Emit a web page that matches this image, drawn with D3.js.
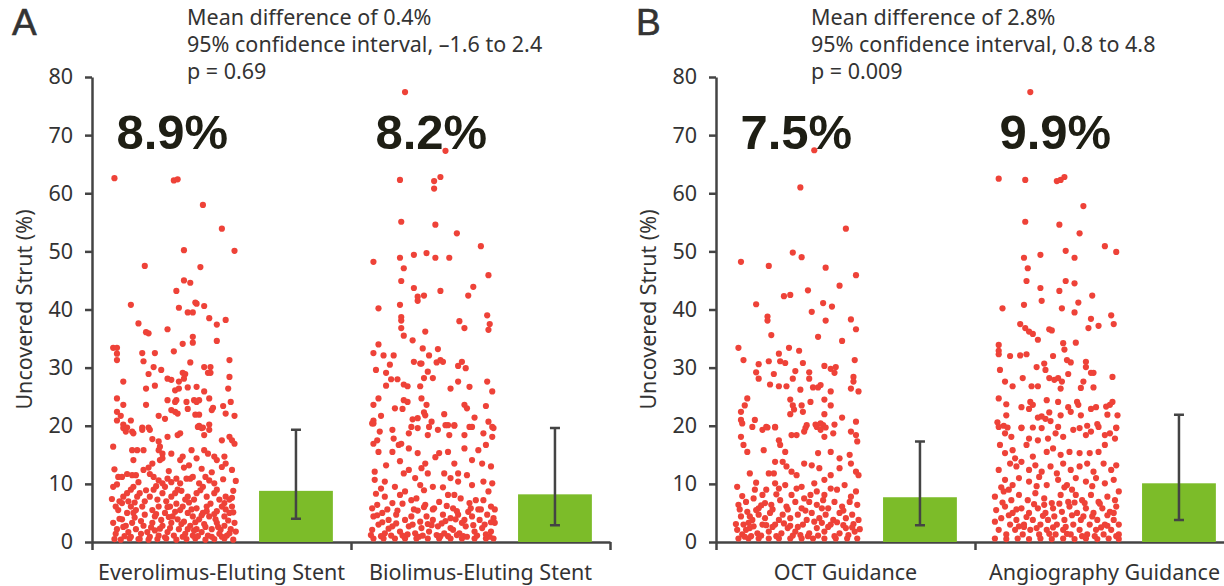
<!DOCTYPE html>
<html>
<head>
<meta charset="utf-8">
<script src="https://cdn.jsdelivr.net/npm/d3@7"></script>
<style>
  body { margin: 0; background: #fff; }
  svg { display: block; }
  text { font-family: "Noto Sans", "Open Sans", sans-serif; fill: #333; }
  .big { font-family: "Liberation Sans", Arial, sans-serif; font-weight: bold; fill: #1e1e14; }
  .letter { font-family: "Liberation Sans", Arial, sans-serif; fill: #333; }
</style>
</head>
<body>
<svg width="1224" height="586"></svg>
<script>
var yTicks = [0, 10, 20, 30, 40, 50, 60, 70, 80];

var categoriesA = ["Everolimus-Eluting Stent", "Biolimus-Eluting Stent"];
var categoriesB = ["OCT Guidance", "Angiography Guidance"];
var percentLabelsA = ["8.9%", "8.2%"];
var percentLabelsB = ["7.5%", "9.9%"];
var barMeansA = [8.8, 8.2];
var barMeansB = [7.7, 10.1];
var errLowA = [4.0, 2.9];
var errHighA = [19.3, 19.6];
var errLowB = [2.9, 3.8];
var errHighB = [17.3, 21.9];
var notesA = ["Mean difference of 0.4%", "95% confidence interval, \u20131.6 to 2.4", "p = 0.69"];
var notesB = ["Mean difference of 2.8%", "95% confidence interval, 0.8 to 4.8", "p = 0.009"];

// [jitter 0-100, uncovered strut %]
var pointsEES = [[3,62.6],[50,62.2],[53,62.4],[73,58.0],[88,53.9],[58,50.2],[98,50.1],[27,47.5],[71,47.3],[58,45.0],[63,44.6],[52,43.2],[16,40.8],[67,41.2],[68,41.0],[74,40.6],[54,40.3],[61,39.5],[65,39.5],[78,38.5],[91,38.2],[84,37.4],[22,37.6],[28,36.1],[30,35.9],[45,36.6],[65,35.3],[65,34.3],[57,34.1],[84,34.6],[2,33.4],[5,33.4],[5,32.4],[5,31.3],[25,32.5],[26,31.1],[35,32.5],[50,32.8],[63,30.9],[94,31.3],[34,30.1],[40,29.6],[74,30.1],[79,30.1],[77,29.1],[79,29.1],[30,28.9],[57,29.1],[59,28.9],[58,28.1],[45,28.1],[48,27.9],[54,27.6],[10,27.6],[94,28.4],[51,26.1],[54,26.4],[28,26.4],[35,26.9],[61,26.6],[68,26.7],[74,25.9],[93,26.4],[5,24.7],[10,23.6],[28,23.6],[45,24.4],[51,24.1],[52,24.4],[60,24.1],[66,24.4],[68,24.1],[70,24.4],[78,24.7],[81,23.1],[80,22.7],[89,23.4],[95,24.1],[48,22.7],[51,22.4],[53,22.1],[61,22.9],[67,21.9],[70,21.9],[91,22.1],[5,22.4],[8,21.7],[5,20.9],[16,20.9],[38,21.7],[43,21.2],[98,21.7],[10,20.2],[13,19.7],[25,19.7],[30,19.7],[70,20.0],[73,19.7],[78,20.2],
  [10,19.6],[12,19.0],[17,19.0],[18,18.7],[25,19.3],[31,19.3],[33,17.7],[38,17.3],[39,16.4],[45,18.1],[53,18.4],[55,18.7],[69,19.8],[72,19.6],[74,18.4],[78,19.3],[88,17.5],[94,18.1],[96,17.5],[98,16.9],[2,16.4],[17,15.8],[21,15.8],[18,14.1],[26,15.8],[33,13.5],[38,15.8],[41,15.2],[39,14.1],[41,14.4],[48,15.2],[55,14.1],[57,14.7],[64,15.8],[68,14.4],[74,15.8],[77,15.2],[82,14.7],[84,14.1],[90,14.7],[91,13.5],[88,12.9],[96,12.4],[6,11.2],[9,11.2],[13,11.7],[17,11.5],[20,11.5],[26,12.4],[31,11.7],[34,11.2],[38,10.6],[41,10.1],[45,10.9],[48,10.3],[52,10.9],[55,10.1],[60,10.9],[63,10.9],[65,11.2],[70,10.1],[75,11.2],[78,10.6],[82,10.1],[2,9.5],[10,7.8],[13,8.4],[16,9.0],[18,9.5],[21,7.8],[23,8.4],[31,7.8],[34,9.0],[37,7.3],[41,8.4],[43,9.5],[48,7.8],[51,8.4],[53,9.0],[59,7.3],[61,7.8],[66,7.3],[68,8.4],[73,9.5],[76,7.8],[82,8.4],[84,9.0],[86,7.3],[90,6.7],[91,7.8],[94,7.3],[96,7.6],[4,6.1],[6,5.5],[9,6.7],[13,5.0],[16,6.1],[20,5.5],[25,6.1],[27,4.7],[33,5.5],[35,4.4],[38,6.1],[43,5.0],[47,6.1],[49,4.4],[55,5.5],[57,6.1],[61,5.0],[65,4.4],[68,5.8],[73,5.0],[76,6.1],[78,4.4],[84,5.3],[88,6.1],[90,4.4],[94,5.0],[96,6.1],[2,3.3],[5,2.2],[9,3.9],[12,2.8],[14,1.7],[17,3.3],[20,2.2],[23,0.5],[26,2.8],[29,1.7],[33,3.3],[35,2.0],[38,1.1],[41,2.8],[45,1.7],[48,3.3],[50,1.1],[54,2.2],[56,3.1],[59,1.4],[63,2.8],[65,1.1],[68,2.2],[72,1.7],[74,3.1],[77,1.1],[80,2.2],[84,3.3],[86,1.4],[90,2.8],[92,1.1],[95,2.2],[98,3.3],[3,0.5],[8,0.4],[15,0.6],[22,0.5],[30,0.4],[37,0.5],[44,0.6],[52,0.4],[60,0.5],[67,0.6],[75,0.4],[82,0.5],[90,0.6],[97,0.4],
  [7,4.0],[11,1.0],[19,4.2],[24,3.6],[28,8.9],[32,2.5],[36,9.6],[40,3.8],[44,7.0],[47,2.4],[52,6.6],[56,8.8],[58,3.5],[62,6.8],[66,2.0],[70,3.9],[71,8.9],[75,2.6],[79,6.6],[83,3.9],[87,2.1],[89,10.8],[93,3.7],[97,8.8],[1,7.4],[5,9.9],[14,7.0],[22,10.3],[30,12.8],[46,12.2],[58,12.8],[62,13.2],[72,12.6],[80,12.0],[99,10.5],[3,12.5],[99,1.8],
  [4,1.4],[10,2.6],[16,0.9],[18,5.0],[24,1.4],[27,7.0],[31,0.9],[36,4.8],[39,2.3],[43,0.8],[46,4.3],[51,5.2],[53,3.9],[57,0.9],[61,2.2],[64,5.6],[69,1.0],[72,4.6],[76,5.3],[80,0.9],[82,4.8],[85,2.6],[88,0.9],[91,5.6],[94,1.5],[97,5.1],[7,7.0],[19,6.8],[45,6.0],[67,3.4]];

var pointsBES = [[28,77.4],[60,67.3],[24,62.3],[51,62.1],[56,62.8],[51,60.8],[25,55.1],[52,54.6],[69,53.1],[88,50.9],[3,48.2],[24,48.9],[35,49.4],[45,49.7],[52,48.9],[63,48.9],[27,47.1],[94,45.9],[25,44.9],[35,43.7],[38,42.2],[38,41.5],[43,42.4],[56,43.2],[82,43.9],[78,42.4],[7,40.2],[24,40.8],[25,38.7],[25,38.1],[25,36.8],[27,35.5],[34,34.7],[44,36.2],[71,38.0],[75,36.8],[93,39.0],[95,37.5],[94,36.5],[7,34.0],[3,32.5],[11,32.1],[19,32.1],[16,30.5],[5,29.6],[13,29.1],[17,28.0],[22,28.0],[13,26.9],[27,27.1],[30,26.8],[35,31.0],[40,30.7],[41,30.7],[42,33.3],[47,32.1],[54,33.2],[53,30.9],[56,31.3],[58,31.0],[46,29.3],[43,28.2],[50,28.2],[40,26.8],[64,26.4],[70,30.3],[73,31.0],[76,29.9],[70,27.6],[79,26.7],[93,27.6],[97,25.9],[3,23.6],[7,24.7],[9,21.7],[3,20.9],[3,20.4],[20,23.0],[27,24.4],[30,24.1],[26,22.9],[41,24.7],[45,23.6],[43,22.3],[44,21.8],[34,21.1],[38,21.3],[49,20.7],[59,22.0],[62,20.1],[67,20.0],[75,23.6],[77,23.0],[83,21.4],[79,19.8],[92,23.4],[94,20.7],[98,19.6],
  [2,20.4],[8,19.0],[6,17.5],[3,16.9],[18,19.3],[19,17.8],[23,16.7],[31,18.7],[33,19.8],[38,19.6],[46,18.4],[47,19.8],[54,19.3],[60,20.1],[63,18.4],[67,20.1],[75,18.4],[81,19.8],[90,18.7],[97,18.1],[92,16.7],[97,19.8],[7,15.5],[18,15.5],[25,16.9],[31,16.1],[38,15.3],[44,13.5],[55,15.3],[62,15.5],[67,13.5],[75,16.1],[81,14.1],[89,13.5],[96,13.0],[70,11.8],[4,12.1],[4,10.7],[12,10.4],[20,9.5],[27,11.8],[31,12.4],[36,11.0],[41,12.7],[46,11.8],[50,9.5],[59,11.8],[64,11.0],[70,10.4],[77,11.5],[81,9.8],[90,10.4],[97,10.1],[94,8.7],[2,5.8],[6,6.4],[12,7.8],[18,6.7],[24,8.1],[28,8.7],[33,7.2],[37,7.5],[44,6.4],[51,5.8],[55,6.9],[62,8.1],[67,8.1],[72,7.5],[79,6.7],[84,7.2],[90,7.2],[96,6.1],[3,4.4],[10,5.0],[15,3.8],[21,4.7],[28,3.8],[33,4.4],[40,3.5],[45,4.4],[50,3.8],[58,4.7],[64,4.1],[70,4.7],[75,3.8],[81,4.4],[87,3.8],[93,4.7],[98,4.1],[2,2.1],[7,3.0],[12,1.5],[18,2.7],[24,1.8],[31,2.7],[36,1.5],[41,2.4],[47,1.8],[54,2.7],[59,1.5],[64,2.4],[71,1.5],[76,2.7],[83,1.8],[89,2.4],[96,1.8],[3,0.6],[11,0.6],[20,0.6],[28,0.6],[37,0.6],[46,0.6],[55,0.6],[64,0.6],[73,0.6],[83,0.6],[92,0.6],[98,0.6],
  [5,8.3],[15,2.3],[22,5.4],[26,1.1],[35,5.6],[39,0.9],[43,8.9],[49,2.9],[53,1.2],[57,3.2],[61,6.2],[66,2.1],[69,5.3],[74,1.0],[78,5.2],[82,2.9],[86,5.6],[91,3.0],[95,0.9],[99,3.3],[13,13.2],[52,14.6],[86,15.8],[24,13.9],[9,9.2],[58,9.4],[40,9.8],
  [1,1.2],[6,4.6],[9,1.0],[14,5.6],[17,1.1],[21,3.2],[26,6.6],[30,1.3],[34,3.0],[38,5.4],[42,1.1],[46,3.1],[50,5.6],[56,1.0],[60,3.6],[62,1.0],[66,5.8],[69,1.2],[73,3.3],[77,0.9],[80,5.8],[85,1.1],[88,5.6],[92,1.3],[96,3.4],[99,5.6],[10,3.4],[43,6.0],[68,3.9]];

var pointsOCT = [[63,67.4],[52,61.0],[88,53.9],[5,48.2],[27,47.5],[46,49.8],[53,49.0],[72,47.2],[96,45.9],[83,44.1],[58,43.3],[39,42.3],[44,42.5],[17,40.9],[70,41.1],[77,40.5],[61,39.6],[26,38.8],[26,38.1],[72,38.1],[92,38.3],[96,36.6],[29,35.6],[66,35.3],[85,34.6],[3,33.4],[7,31.3],[43,33.4],[51,32.9],[35,32.4],[27,31.1],[36,31.1],[40,30.8],[54,30.8],[19,30.6],[17,29.2],[19,28.1],[31,28.9],[48,29.4],[46,28.1],[59,29.2],[59,28.1],[71,30.3],[76,29.8],[80,30.1],[79,29.1],[95,31.3],[94,28.4],[94,27.6],[28,27.1],[35,26.8],[41,26.8],[52,26.2],[62,26.6],[66,26.6],[68,27.0],[76,25.9],[92,26.4],[98,25.9],[10,24.7],[8,23.5],[5,22.4],[5,21.0],[6,20.4],[16,21.0],[44,24.5],[46,23.5],[47,22.8],[53,23.5],[54,22.4],[60,24.1],[44,22.0],[71,24.5],[76,23.5],[71,22.0],[85,21.4],[96,20.7],[26,19.7],[32,19.7],[56,19.6],[64,20.2],[70,20.1],[72,19.7],[79,20.2],
  [5,18.1],[7,16.7],[10,15.5],[14,19.8],[22,19.3],[23,15.8],[25,19.8],[32,19.8],[35,17.5],[36,16.7],[40,15.5],[45,18.4],[49,18.4],[55,19.0],[57,20.1],[65,19.8],[68,19.3],[68,20.4],[71,18.1],[78,18.7],[76,15.5],[83,14.4],[92,19.0],[96,18.4],[97,17.3],[32,13.8],[38,13.8],[41,13.0],[27,11.8],[31,11.8],[45,12.1],[49,11.5],[55,13.5],[61,13.2],[66,15.3],[67,12.7],[71,10.7],[76,11.5],[83,12.7],[91,15.0],[92,13.5],[96,12.1],[98,11.5],[2,9.5],[12,11.8],[16,9.0],[22,8.1],[25,9.0],[32,10.1],[35,9.2],[40,9.8],[45,8.1],[49,9.2],[53,9.5],[55,7.5],[63,10.1],[65,8.7],[71,8.1],[76,9.2],[81,9.0],[87,9.8],[92,7.8],[96,8.7],[3,6.4],[9,6.9],[15,7.5],[19,5.8],[24,6.7],[29,6.4],[36,7.2],[41,6.1],[48,6.9],[53,5.8],[59,6.9],[65,6.4],[70,7.2],[74,5.8],[79,6.9],[85,6.1],[91,6.9],[97,6.4],[5,4.4],[10,5.2],[14,3.8],[19,4.7],[24,4.1],[28,5.0],[35,3.8],[38,4.7],[44,4.1],[50,4.7],[57,3.8],[61,5.0],[67,4.1],[72,4.7],[78,3.8],[83,5.0],[88,4.1],[93,4.7],[98,3.8],[2,2.1],[7,3.0],[12,2.4],[18,1.5],[22,3.0],[27,1.8],[32,3.0],[37,1.5],[42,2.4],[48,1.8],[54,3.0],[59,1.5],[65,2.4],[71,1.8],[76,3.0],[83,1.5],[88,2.4],[95,1.8],[3,0.6],[11,0.6],[19,0.6],[27,0.6],[35,0.6],[44,0.6],[53,0.6],[62,0.6],[71,0.6],[80,0.6],[89,0.6],[97,0.6],[6,1.3],[9,2.1],[11,3.3],[15,2.7],[12,4.4],
  [17,10.2],[44,2.8],[60,8.1],[86,2.9],[30,2.6],[69,3.3],[94,3.1],[52,1.2],
  [1,3.1],[4,5.6],[8,0.9],[13,1.0],[17,5.5],[21,1.1],[25,2.9],[30,5.6],[33,1.0],[39,3.2],[42,5.6],[46,1.1],[50,2.6],[56,5.4],[58,1.0],[63,3.5],[66,1.1],[69,5.8],[74,2.6],[79,1.0],[81,3.4],[86,5.4],[90,1.2],[93,2.5],[99,2.2],[6,7.9],[21,6.3],[33,8.2]];

var pointsAngio = [[29,77.4],[4,62.5],[25,62.3],[50,62.1],[53,62.3],[56,62.8],[71,57.8],[25,55.1],[52,54.6],[68,53.1],[88,50.9],[97,49.9],[24,48.9],[37,49.4],[57,50.1],[64,48.9],[27,47.1],[26,44.9],[37,43.7],[52,43.2],[57,44.9],[64,44.5],[78,42.4],[38,41.5],[67,41.2],[7,40.2],[24,40.8],[54,40.2],[64,39.5],[77,38.4],[93,39.0],[95,37.5],[83,37.2],[75,36.8],[21,37.5],[25,36.8],[28,36.2],[31,35.8],[35,34.8],[44,36.6],[46,36.4],[55,34.2],[56,33.1],[65,34.3],[4,33.9],[4,32.9],[4,32.3],[13,32.0],[21,32.1],[26,32.3],[47,32.0],[40,30.7],[34,30.1],[58,31.3],[61,30.9],[73,31.0],[73,30.1],[77,29.1],[79,29.1],[94,28.4],[5,29.6],[41,29.6],[59,28.9],[9,27.6],[15,26.8],[23,28.2],[30,26.8],[35,26.8],[44,28.2],[48,27.9],[51,28.2],[54,27.6],[53,26.4],[69,26.5],[71,27.6],[79,26.6],[4,24.7],[10,23.7],[10,21.8],[29,24.1],[31,23.6],[22,23.2],[28,22.9],[42,24.4],[51,24.1],[66,24.1],[67,23.6],[59,23.2],[61,22.4],[44,22.3],[53,21.8],[69,21.8],[77,22.9],[81,23.2],[89,23.3],[92,23.6],[94,24.1],[90,21.9],[98,21.8],[35,21.4],[38,21.6],[41,21.2],[45,20.8],[3,20.6],[8,20.0],[11,19.7],[22,19.7],[31,19.7],[74,20.0],[82,20.3],[97,19.7],
  [4,19.8],[9,18.7],[5,16.7],[14,18.1],[15,15.8],[22,19.6],[26,16.7],[28,17.8],[35,17.5],[38,19.6],[43,17.8],[49,18.7],[51,19.8],[55,18.1],[63,19.3],[68,19.6],[73,18.4],[77,19.0],[83,19.8],[88,18.4],[92,18.7],[96,17.8],[97,19.6],[88,16.7],[83,15.5],[76,15.3],[68,15.3],[60,15.5],[53,15.0],[47,16.1],[42,15.5],[31,14.7],[17,14.4],[9,15.3],[4,12.4],[13,13.5],[18,13.0],[22,13.8],[28,12.4],[33,13.2],[38,12.1],[45,13.0],[50,11.8],[55,13.5],[61,12.4],[68,13.0],[74,13.5],[79,12.1],[87,13.5],[93,12.4],[97,13.2],[9,10.7],[15,9.8],[20,11.0],[28,10.4],[36,11.2],[42,9.8],[51,10.7],[58,9.8],[65,11.0],[73,10.4],[81,11.0],[88,10.1],[95,10.7],[1,7.8],[8,8.7],[14,7.2],[20,8.1],[27,7.2],[33,8.4],[40,7.5],[46,6.7],[53,8.1],[59,6.9],[65,8.1],[70,7.2],[77,8.1],[83,6.9],[90,7.8],[96,7.2],[99,8.7],[2,5.5],[9,6.1],[15,5.0],[22,5.8],[28,5.0],[35,5.8],[41,5.0],[47,5.8],[54,5.2],[60,6.1],[66,5.0],[73,5.8],[79,5.0],[86,5.8],[92,5.2],[97,6.1],[1,3.5],[6,4.1],[13,3.0],[18,3.8],[24,3.0],[31,3.8],[37,3.0],[43,3.8],[50,3.0],[56,3.8],[63,3.0],[69,3.8],[76,3.0],[82,3.8],[88,3.0],[95,3.8],[99,3.0],[4,2.1],[10,1.3],[17,2.1],[23,1.3],[29,2.1],[36,1.3],[42,2.1],[49,1.3],[55,2.1],[61,1.3],[68,2.1],[74,1.3],[81,2.1],[87,1.3],[93,2.1],[99,1.3],[1,0.6],[10,0.5],[19,0.6],[28,0.5],[37,0.6],[46,0.5],[55,0.6],[64,0.5],[73,0.6],[82,0.5],[91,0.6],[99,0.5],
  [6,9.4],[24,2.6],[39,4.5],[57,2.6],[71,4.4],[85,2.5],[62,9.0],[34,9.6],[90,4.6],[47,2.5],
  [7,6.8],[12,4.6],[18,5.6],[20,2.7],[26,4.3],[32,6.5],[34,2.4],[40,6.4],[44,1.4],[48,4.4],[52,6.6],[58,1.4],[62,4.6],[64,6.8],[70,1.0],[72,6.7],[78,4.4],[80,1.0],[84,6.6],[90,2.8],[95,5.0],[97,1.0],[12,9.0],[56,9.4],[78,9.6]];

var svg = d3.select("svg");

var y = d3.scaleLinear()
    .domain([0, 80])
    .range([542, 77]);

function drawPanel(opts) {
    var x = d3.scaleBand()
        .domain(opts.categories)
        .range([opts.left, opts.left + 518])
        .padding(0);
    var bw = x.bandwidth();

    var g = svg.append("g");

    g.append("text")
        .attr("class", "letter")
        .attr("x", opts.left - 80)
        .attr("y", 35)
        .style("font-size", "37px")
        .style("stroke", "#333")
        .style("stroke-width", 0.6)
        .text(opts.letter);

    g.selectAll(".note")
      .data(opts.notes)
      .enter().append("text")
        .attr("class", "note")
        .attr("x", opts.left + 95)
        .attr("y", function(d, i) { return 25 + i * 27; })
        .style("font-size", "21.5px")
        .text(function(d) { return d; });

    // y axis
    g.append("g")
        .attr("class", "axis")
        .attr("transform", "translate(" + opts.left + ",0)")
        .call(d3.axisLeft(y).tickValues(yTicks).tickSize(7).tickSizeOuter(0).tickPadding(12));

    g.append("text")
        .attr("transform", "translate(" + (opts.left - 60) + "," + ((y(0) + y(80)) / 2) + ") rotate(-90)")
        .attr("text-anchor", "middle")
        .style("font-size", "21.5px")
        .text("Uncovered Strut (%)");

    // x axis: boundary ticks + labels
    var bound = d3.scaleLinear().domain([0, 2]).range([opts.left, opts.left + 518]);
    g.append("g")
        .attr("class", "axis")
        .attr("transform", "translate(0," + y(0) + ")")
        .call(d3.axisBottom(bound).tickValues([0, 1, 2]).tickFormat("").tickSize(8).tickSizeOuter(0));

    g.append("g")
        .attr("class", "xlabels")
        .attr("transform", "translate(0," + y(0) + ")")
        .call(d3.axisBottom(x).tickSize(0).tickPadding(23))
        .call(function(s) { s.select(".domain").remove(); });

    // big percent labels (under the dots)
    g.selectAll(".big")
      .data(opts.percents)
      .enter().append("text")
        .attr("class", "big")
        .attr("x", function(d, i) { return x(opts.categories[i]) + bw * 0.31; })
        .attr("y", y(67.6))
        .attr("text-anchor", "middle")
        .style("font-size", "49px")
        .text(function(d) { return d; });

    // bars with error bars
    var barX = function(i) { return x(opts.categories[i]) + bw * 0.645; };
    var barW = bw * 0.285;
    opts.means.forEach(function(m, i) {
        g.append("rect")
            .attr("x", barX(i))
            .attr("y", y(m))
            .attr("width", barW)
            .attr("height", y(0) - y(m))
            .attr("fill", "#7cbc29");
        var cx = barX(i) + barW / 2;
        g.append("path")
            .attr("d", "M" + cx + "," + y(opts.lo[i]) + "V" + y(opts.hi[i]) +
                       "M" + (cx - 5) + "," + y(opts.hi[i]) + "H" + (cx + 5) +
                       "M" + (cx - 5) + "," + y(opts.lo[i]) + "H" + (cx + 5))
            .attr("stroke", "#444")
            .attr("stroke-width", 2.5)
            .attr("fill", "none");
    });

    // jittered dots
    opts.points.forEach(function(pts, i) {
        var jx = d3.scaleLinear()
            .domain([0, 100])
            .range([x(opts.categories[i]) + bw * 0.072, x(opts.categories[i]) + bw * 0.56]);
        g.selectAll(".dot" + i)
          .data(pts)
          .enter().append("circle")
            .attr("cx", function(d) { return jx(d[0]); })
            .attr("cy", function(d) { return y(d[1]); })
            .attr("r", 3.1)
            .attr("fill", "#ee4238");
    });
}

drawPanel({
    letter: "A", left: 92, categories: categoriesA, notes: notesA,
    percents: percentLabelsA, means: barMeansA, lo: errLowA, hi: errHighA,
    points: [pointsEES, pointsBES]
});

drawPanel({
    letter: "B", left: 716, categories: categoriesB, notes: notesB,
    percents: percentLabelsB, means: barMeansB, lo: errLowB, hi: errHighB,
    points: [pointsOCT, pointsAngio]
});

svg.selectAll(".axis path, .axis line")
    .attr("stroke", "#444")
    .attr("stroke-width", 2.5);
svg.selectAll(".axis text, .xlabels text")
    .style("font-size", "21.5px")
    .attr("fill", "#333");
</script>
</body>
</html>
